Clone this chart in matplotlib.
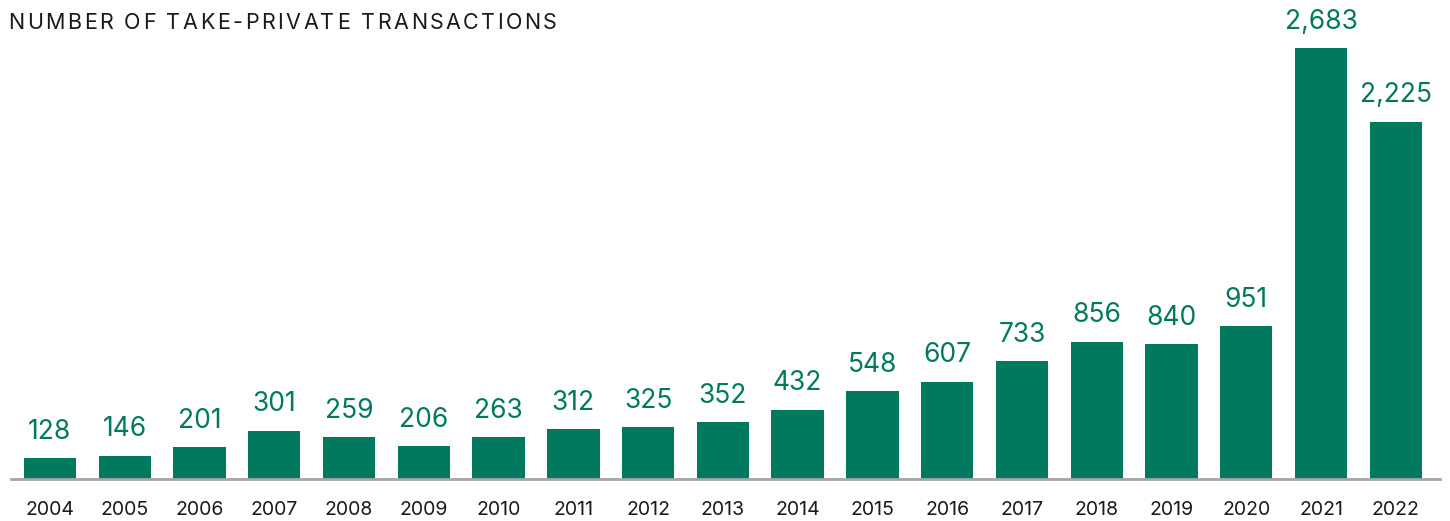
import matplotlib.pyplot as plt

years = ['2004', '2005', '2006', '2007', '2008', '2009', '2010', '2011', '2012', '2013',
         '2014', '2015', '2016', '2017', '2018', '2019', '2020', '2021', '2022']
deals = [128, 146, 201, 301, 259, 206, 263, 312, 325, 352,
         432, 548, 607, 733, 856, 840, 951, 2683, 2225]
title = 'NUMBER OF TAKE-PRIVATE TRANSACTIONS'

green = '#00795F'

plt.rcParams['font.family'] = ['Inter', 'DejaVu Sans']

fig = plt.figure(figsize=(14.5, 5.21), dpi=100)
ax = fig.add_axes([0.0076, 0.0806, 0.9855, 0.9194])

x = range(len(years))
ax.bar(x, deals, width=0.7, color=green)
for i, v in enumerate(deals):
    ax.annotate(f'{v:,}', (i, v), xytext=(0, 9.5), textcoords='offset points',
                ha='center', va='bottom', fontsize=19, color=green)

ax.set_xlim(-0.52, 18.59)
ax.set_ylim(0, 2982)
ax.set_xticks(list(x))
ax.set_xticklabels(years, fontsize=14, color='#1a1a1a')
ax.tick_params(axis='x', length=0, pad=16)
ax.set_yticks([])
for s in ['top', 'right', 'left']:
    ax.spines[s].set_visible(False)
ax.spines['bottom'].set_color('#a6a6a6')
ax.spines['bottom'].set_linewidth(2)

# title with wide letter spacing, drawn char by char
renderer = fig.canvas.get_renderer()
W = fig.bbox.width
full = fig.text(0, 0, title, fontsize=15.5)
natural = full.get_window_extent(renderer).width
full.remove()
track = (549 - natural) / (len(title) - 1)
xpos = 8
for ch in title:
    t = fig.text(xpos / W, 0.956, ch, fontsize=15.5, color='#1a1a1a',
                 ha='left', va='center')
    xpos += t.get_window_extent(renderer).width + track

fig.savefig('out.png', dpi=100)
